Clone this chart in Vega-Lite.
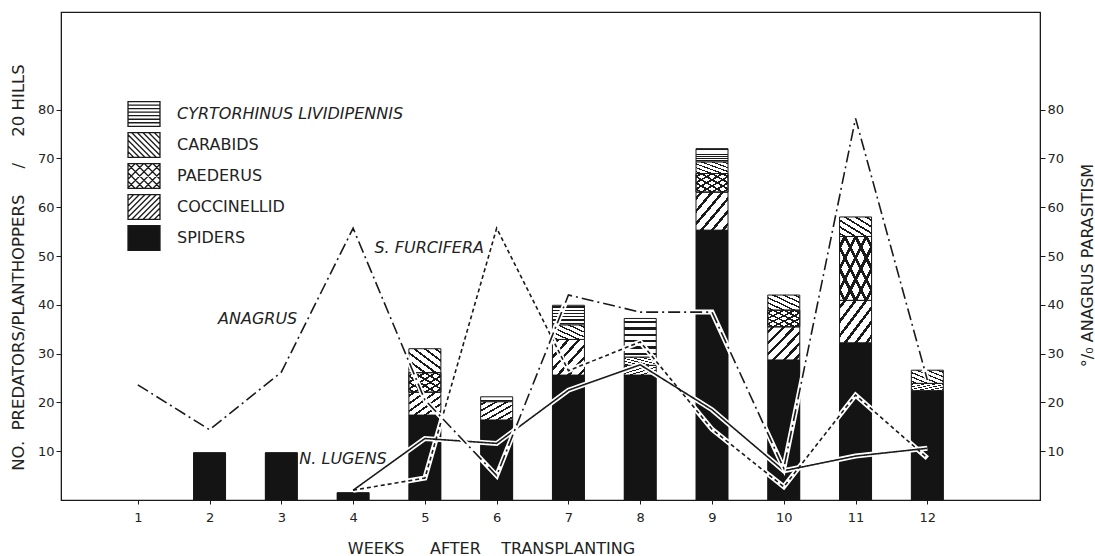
{
  "$schema": "https://vega.github.io/schema/vega-lite/v6.json",
  "width": 979,
  "height": 488,
  "autosize": {"type": "none"},
  "padding": {"left": 61, "top": 12, "right": 55, "bottom": 56},
  "background": "white",
  "params": [
    {"name": "gH", "expr": "{gradient:'linear',x1:0,y1:0,x2:0,y2:1,stops:[{offset:0,color:'#fff'},{offset:0.06,color:'#fff'},{offset:0.06,color:'#1a1a1a'},{offset:0.12,color:'#1a1a1a'},{offset:0.12,color:'#fff'},{offset:0.2267,color:'#fff'},{offset:0.2267,color:'#1a1a1a'},{offset:0.2867,color:'#1a1a1a'},{offset:0.2867,color:'#fff'},{offset:0.3933,color:'#fff'},{offset:0.3933,color:'#1a1a1a'},{offset:0.4533,color:'#1a1a1a'},{offset:0.4533,color:'#fff'},{offset:0.56,color:'#fff'},{offset:0.56,color:'#1a1a1a'},{offset:0.62,color:'#1a1a1a'},{offset:0.62,color:'#fff'},{offset:0.7267,color:'#fff'},{offset:0.7267,color:'#1a1a1a'},{offset:0.7867,color:'#1a1a1a'},{offset:0.7867,color:'#fff'},{offset:0.8933,color:'#fff'},{offset:0.8933,color:'#1a1a1a'},{offset:0.9533,color:'#1a1a1a'},{offset:0.9533,color:'#fff'},{offset:1,color:'#fff'}]}"},
    {"name": "gB", "expr": "{gradient:'linear',x1:1,y1:0,x2:0,y2:1,stops:[{offset:0,color:'#fff'},{offset:0.06,color:'#fff'},{offset:0.06,color:'#1a1a1a'},{offset:0.11,color:'#1a1a1a'},{offset:0.11,color:'#fff'},{offset:0.2267,color:'#fff'},{offset:0.2267,color:'#1a1a1a'},{offset:0.2767,color:'#1a1a1a'},{offset:0.2767,color:'#fff'},{offset:0.3933,color:'#fff'},{offset:0.3933,color:'#1a1a1a'},{offset:0.4433,color:'#1a1a1a'},{offset:0.4433,color:'#fff'},{offset:0.56,color:'#fff'},{offset:0.56,color:'#1a1a1a'},{offset:0.61,color:'#1a1a1a'},{offset:0.61,color:'#fff'},{offset:0.7267,color:'#fff'},{offset:0.7267,color:'#1a1a1a'},{offset:0.7767,color:'#1a1a1a'},{offset:0.7767,color:'#fff'},{offset:0.8933,color:'#fff'},{offset:0.8933,color:'#1a1a1a'},{offset:0.9433,color:'#1a1a1a'},{offset:0.9433,color:'#fff'},{offset:1,color:'#fff'}]}"},
    {"name": "gF", "expr": "{gradient:'linear',x1:0,y1:0,x2:1,y2:1,stops:[{offset:0,color:'#fff'},{offset:0.06,color:'#fff'},{offset:0.06,color:'#1a1a1a'},{offset:0.11,color:'#1a1a1a'},{offset:0.11,color:'#fff'},{offset:0.2267,color:'#fff'},{offset:0.2267,color:'#1a1a1a'},{offset:0.2767,color:'#1a1a1a'},{offset:0.2767,color:'#fff'},{offset:0.3933,color:'#fff'},{offset:0.3933,color:'#1a1a1a'},{offset:0.4433,color:'#1a1a1a'},{offset:0.4433,color:'#fff'},{offset:0.56,color:'#fff'},{offset:0.56,color:'#1a1a1a'},{offset:0.61,color:'#1a1a1a'},{offset:0.61,color:'#fff'},{offset:0.7267,color:'#fff'},{offset:0.7267,color:'#1a1a1a'},{offset:0.7767,color:'#1a1a1a'},{offset:0.7767,color:'#fff'},{offset:0.8933,color:'#fff'},{offset:0.8933,color:'#1a1a1a'},{offset:0.9433,color:'#1a1a1a'},{offset:0.9433,color:'#fff'},{offset:1,color:'#fff'}]}"},
    {"name": "gFt", "expr": "{gradient:'linear',x1:0,y1:0,x2:1,y2:1,stops:[{offset:0,color:'rgba(255,255,255,0)'},{offset:0.06,color:'rgba(255,255,255,0)'},{offset:0.06,color:'#1a1a1a'},{offset:0.11,color:'#1a1a1a'},{offset:0.11,color:'rgba(255,255,255,0)'},{offset:0.2267,color:'rgba(255,255,255,0)'},{offset:0.2267,color:'#1a1a1a'},{offset:0.2767,color:'#1a1a1a'},{offset:0.2767,color:'rgba(255,255,255,0)'},{offset:0.3933,color:'rgba(255,255,255,0)'},{offset:0.3933,color:'#1a1a1a'},{offset:0.4433,color:'#1a1a1a'},{offset:0.4433,color:'rgba(255,255,255,0)'},{offset:0.56,color:'rgba(255,255,255,0)'},{offset:0.56,color:'#1a1a1a'},{offset:0.61,color:'#1a1a1a'},{offset:0.61,color:'rgba(255,255,255,0)'},{offset:0.7267,color:'rgba(255,255,255,0)'},{offset:0.7267,color:'#1a1a1a'},{offset:0.7767,color:'#1a1a1a'},{offset:0.7767,color:'rgba(255,255,255,0)'},{offset:0.8933,color:'rgba(255,255,255,0)'},{offset:0.8933,color:'#1a1a1a'},{offset:0.9433,color:'#1a1a1a'},{offset:0.9433,color:'rgba(255,255,255,0)'},{offset:1,color:'rgba(255,255,255,0)'}]}"}
  ],
  "config": {
    "view": {"stroke": "#1a1a1a", "strokeWidth": 1.2},
    "font": "DejaVu Sans",
    "axis": {"grid": false, "domainColor": "#1a1a1a", "tickColor": "#1a1a1a", "labelColor": "#222", "titleColor": "#222", "labelFont": "DejaVu Sans", "titleFont": "DejaVu Sans", "titleFontWeight": "normal", "labelFontSize": 13, "titleFontSize": 16}
  },
  "datasets": {
    "bars": [
      {"week": 2, "group": "SPIDERS", "value": 9.7},
      {"week": 3, "group": "SPIDERS", "value": 9.7},
      {"week": 4, "group": "SPIDERS", "value": 1.5},
      {"week": 5, "group": "SPIDERS", "value": 17.4},
      {"week": 5, "group": "COCCINELLID", "value": 4.7},
      {"week": 5, "group": "PAEDERUS", "value": 4.0},
      {"week": 5, "group": "CARABIDS", "value": 4.9},
      {"week": 6, "group": "SPIDERS", "value": 16.4},
      {"week": 6, "group": "COCCINELLID", "value": 3.75},
      {"week": 6, "group": "CYRTORHINUS LIVIDIPENNIS", "value": 1.0},
      {"week": 7, "group": "SPIDERS", "value": 25.6},
      {"week": 7, "group": "COCCINELLID", "value": 7.3},
      {"week": 7, "group": "CARABIDS", "value": 3.0},
      {"week": 7, "group": "CYRTORHINUS LIVIDIPENNIS", "value": 4.0},
      {"week": 8, "group": "SPIDERS", "value": 25.6},
      {"week": 8, "group": "COCCINELLID", "value": 2.0},
      {"week": 8, "group": "CARABIDS", "value": 1.7},
      {"week": 8, "group": "CYRTORHINUS LIVIDIPENNIS", "value": 7.9},
      {"week": 9, "group": "SPIDERS", "value": 55.3},
      {"week": 9, "group": "COCCINELLID", "value": 7.8},
      {"week": 9, "group": "PAEDERUS", "value": 3.8},
      {"week": 9, "group": "CARABIDS", "value": 2.4},
      {"week": 9, "group": "CYRTORHINUS LIVIDIPENNIS", "value": 2.7},
      {"week": 10, "group": "SPIDERS", "value": 28.7},
      {"week": 10, "group": "COCCINELLID", "value": 6.8},
      {"week": 10, "group": "PAEDERUS", "value": 3.4},
      {"week": 10, "group": "CARABIDS", "value": 3.1},
      {"week": 11, "group": "SPIDERS", "value": 32.2},
      {"week": 11, "group": "COCCINELLID", "value": 8.7},
      {"week": 11, "group": "PAEDERUS", "value": 13.1},
      {"week": 11, "group": "CARABIDS", "value": 4.0},
      {"week": 12, "group": "SPIDERS", "value": 22.4},
      {"week": 12, "group": "COCCINELLID", "value": 1.5},
      {"week": 12, "group": "CARABIDS", "value": 2.7}
    ],
    "lines": [
      {"week": 1, "series": "ANAGRUS", "value": 23.6},
      {"week": 2, "series": "ANAGRUS", "value": 14.4},
      {"week": 3, "series": "ANAGRUS", "value": 26.2},
      {"week": 4, "series": "ANAGRUS", "value": 55.7},
      {"week": 5, "series": "ANAGRUS", "value": 20.5},
      {"week": 6, "series": "ANAGRUS", "value": 5.0},
      {"week": 7, "series": "ANAGRUS", "value": 42.0},
      {"week": 8, "series": "ANAGRUS", "value": 38.5},
      {"week": 9, "series": "ANAGRUS", "value": 38.5},
      {"week": 10, "series": "ANAGRUS", "value": 6.5},
      {"week": 11, "series": "ANAGRUS", "value": 78.2},
      {"week": 12, "series": "ANAGRUS", "value": 24.6},
      {"week": 4, "series": "S. FURCIFERA", "value": 2.0},
      {"week": 5, "series": "S. FURCIFERA", "value": 4.5},
      {"week": 6, "series": "S. FURCIFERA", "value": 55.7},
      {"week": 7, "series": "S. FURCIFERA", "value": 26.5},
      {"week": 8, "series": "S. FURCIFERA", "value": 32.4},
      {"week": 9, "series": "S. FURCIFERA", "value": 14.5},
      {"week": 10, "series": "S. FURCIFERA", "value": 2.7},
      {"week": 11, "series": "S. FURCIFERA", "value": 21.5},
      {"week": 12, "series": "S. FURCIFERA", "value": 8.6},
      {"week": 4, "series": "N. LUGENS", "value": 2.0},
      {"week": 5, "series": "N. LUGENS", "value": 12.6},
      {"week": 6, "series": "N. LUGENS", "value": 11.6},
      {"week": 7, "series": "N. LUGENS", "value": 22.5},
      {"week": 8, "series": "N. LUGENS", "value": 27.7},
      {"week": 9, "series": "N. LUGENS", "value": 18.5},
      {"week": 10, "series": "N. LUGENS", "value": 6.0},
      {"week": 11, "series": "N. LUGENS", "value": 9.0},
      {"week": 12, "series": "N. LUGENS", "value": 10.6}
    ],
    "notes": [
      {"label": "ANAGRUS", "week": 2.67, "value": 37.1},
      {"label": "S. FURCIFERA", "week": 5.06, "value": 51.6},
      {"label": "N. LUGENS", "week": 3.86, "value": 8.5}
    ]
  },
  "encoding": {
    "x": {
      "field": "week", "type": "quantitative",
      "scale": {"domain": [0, 13.5], "nice": false, "zero": false},
      "axis": {"values": [1, 2, 3, 4, 5, 6, 7, 8, 9, 10, 11, 12], "tickSize": 4, "labelPadding": 7, "labelFontSize": 13, "title": "WEEKS\u00a0\u00a0\u00a0\u00a0\u00a0AFTER\u00a0\u00a0\u00a0\u00a0TRANSPLANTING", "titleFontSize": 16, "titleX": 430, "titleY": 40, "titleAlign": "center", "titleBaseline": "top"}
    }
  },
  "resolve": {"scale": {"y": "independent"}},
  "layer": [
    {
      "data": {"name": "bars"},
      "transform": [
        {"calculate": "indexof(['SPIDERS','COCCINELLID','PAEDERUS','CARABIDS','CYRTORHINUS LIVIDIPENNIS'], datum.group)", "as": "k"},
        {"stack": "value", "groupby": ["week"], "sort": [{"field": "k", "order": "ascending"}], "as": ["y0", "y1"]}
      ],
      "encoding": {
        "y": {
          "field": "y0", "type": "quantitative",
          "scale": {"domain": [0, 100], "nice": false},
          "axis": {"orient": "left", "values": [10, 20, 30, 40, 50, 60, 70, 80], "tickSize": 5, "labelPadding": 2, "labelFontSize": 13, "title": "NO.\u00a0\u00a0PREDATORS/PLANTHOPPERS\u00a0\u00a0\u00a0\u00a0\u00a0/\u00a0\u00a0\u00a0\u00a0\u00a020\u00a0HILLS", "titleFontSize": 16.5, "titleX": -43, "titleY": 255, "titleBaseline": "middle", "titleAlign": "center"}
        },
        "y2": {"field": "y1"}
      },
      "layer": [
        {
          "transform": [{"filter": "datum.group == 'SPIDERS'"}],
          "mark": {"type": "bar", "width": 32, "stroke": "#1a1a1a", "strokeWidth": 1, "fill": "#141414"}
        },
        {
          "transform": [{"filter": "datum.group == 'COCCINELLID'"}],
          "mark": {"type": "bar", "width": 32, "stroke": "#1a1a1a", "strokeWidth": 1, "fill": {"expr": "gF"}}
        },
        {
          "transform": [{"filter": "datum.group == 'PAEDERUS' || datum.group == 'CARABIDS'"}],
          "mark": {"type": "bar", "width": 32, "stroke": "#1a1a1a", "strokeWidth": 1, "fill": {"expr": "gB"}}
        },
        {
          "transform": [{"filter": "datum.group == 'PAEDERUS'"}],
          "mark": {"type": "bar", "width": 32, "stroke": "#1a1a1a", "strokeWidth": 1, "fill": {"expr": "gFt"}}
        },
        {
          "transform": [{"filter": "datum.group == 'CYRTORHINUS LIVIDIPENNIS'"}],
          "mark": {"type": "bar", "width": 32, "stroke": "#1a1a1a", "strokeWidth": 1, "fill": {"expr": "gH"}}
        },
        {
          "mark": {"type": "bar", "width": 32, "strokeWidth": 0},
          "encoding": {
            "fill": {
              "field": "group", "type": "nominal",
              "scale": {
                "domain": ["CYRTORHINUS LIVIDIPENNIS", "CARABIDS", "PAEDERUS", "COCCINELLID", "SPIDERS"],
                "range": ["transparent", "transparent", "transparent", "transparent", "#141414"]
              },
              "legend": {
                "orient": "none", "legendX": 68, "legendY": 87, "title": null, "padding": 0,
                "symbolType": "M-1.13,-0.88H1.13V0.88H-1.13Z", "symbolSize": 800,
                "symbolStrokeColor": "#1a1a1a", "symbolStrokeWidth": 1.3, "symbolOpacity": 1,
                "labelFontSize": 16, "labelOffset": 18, "rowPadding": -3.5, "labelColor": "#222", "labelFont": "DejaVu Sans", "labelLimit": 400,
                "encode": {
                  "symbols": {"update": {
                    "shape": {"signal": "datum.value == 'CYRTORHINUS LIVIDIPENNIS' ? 'M-1.13,-0.88H1.13V0.88H-1.13ZM-1.13,-0.63H1.13M-1.13,-0.38H1.13M-1.13,-0.13H1.13M-1.13,0.12H1.13M-1.13,0.37H1.13M-1.13,0.62H1.13' : datum.value == 'CARABIDS' ? 'M-1.13,-0.88H1.13V0.88H-1.13ZM1.13,-0.47L0.72,-0.88M1.13,-0.07L0.32,-0.88M1.13,0.33L-0.08,-0.88M1.13,0.73L-0.48,-0.88M0.88,0.88L-0.88,-0.88M0.48,0.88L-1.13,-0.73M0.08,0.88L-1.13,-0.33M-0.32,0.88L-1.13,0.07M-0.72,0.88L-1.13,0.47' : datum.value == 'PAEDERUS' ? 'M-1.13,-0.88H1.13V0.88H-1.13ZM-1.13,-0.37L-0.62,-0.88M-1.13,0.23L-0.02,-0.88M-1.13,0.83L0.58,-0.88M-0.58,0.88L1.13,-0.83M0.02,0.88L1.13,-0.23M0.62,0.88L1.13,0.37M1.13,-0.37L0.62,-0.88M1.13,0.23L0.02,-0.88M1.13,0.83L-0.58,-0.88M0.58,0.88L-1.13,-0.83M-0.02,0.88L-1.13,-0.23M-0.62,0.88L-1.13,0.37' : datum.value == 'COCCINELLID' ? 'M-1.13,-0.88H1.13V0.88H-1.13ZM-1.13,-0.47L-0.72,-0.88M-1.13,-0.07L-0.32,-0.88M-1.13,0.33L0.08,-0.88M-1.13,0.73L0.48,-0.88M-0.88,0.88L0.88,-0.88M-0.48,0.88L1.13,-0.73M-0.08,0.88L1.13,-0.33M0.32,0.88L1.13,0.07M0.72,0.88L1.13,0.47' : 'M-1.13,-0.88H1.13V0.88H-1.13Z'"},
                    "fill": {"signal": "datum.value == 'SPIDERS' ? '#141414' : '#ffffff'"},
                    "fillOpacity": {"value": 1},
                    "opacity": {"value": 1},
                    "stroke": {"value": "#1a1a1a"},
                    "strokeOpacity": {"value": 1},
                    "strokeWidth": {"value": 1.3}
                  }},
                  "labels": {"update": {"fontStyle": {"signal": "datum.label == 'CYRTORHINUS LIVIDIPENNIS' ? 'italic' : 'normal'"}}}
                }
              }
            }
          }
        }
      ]
    },
    {
      "data": {"name": "lines"},
      "transform": [{"filter": "datum.series != 'ANAGRUS'"}],
      "encoding": {
        "y": {"field": "value", "type": "quantitative", "scale": {"domain": [0, 100], "nice": false}, "axis": null},
        "detail": {"field": "series", "type": "nominal"}
      },
      "layer": [
        {"mark": {"type": "line", "stroke": "white", "strokeWidth": 5}},
        {
          "mark": {"type": "line", "stroke": "#1a1a1a", "strokeWidth": 1.6},
          "encoding": {
            "strokeDash": {"field": "series", "type": "nominal", "scale": {"domain": ["S. FURCIFERA", "N. LUGENS"], "range": [[4, 3], [1, 0]]}, "legend": null}
          }
        }
      ]
    },
    {
      "data": {"name": "lines"},
      "transform": [{"filter": "datum.series == 'ANAGRUS'"}],
      "encoding": {
        "y": {
          "field": "value", "type": "quantitative", "scale": {"domain": [0, 100], "nice": false},
          "axis": {"orient": "right", "values": [10, 20, 30, 40, 50, 60, 70, 80], "tickSize": 5, "labelPadding": 2, "labelFontSize": 13, "title": "°/₀\u00a0ANAGRUS\u00a0PARASITISM", "titleFontSize": 16, "titleAngle": 270, "titleX": 47, "titleY": 253, "titleBaseline": "middle", "titleAlign": "center"}
        }
      },
      "layer": [
        {"mark": {"type": "line", "stroke": "white", "strokeWidth": 5}},
        {"mark": {"type": "line", "stroke": "#1a1a1a", "strokeWidth": 1.6, "strokeDash": [12, 4, 2, 4]}}
      ]
    },
    {
      "data": {"name": "notes"},
      "mark": {"type": "text", "fontStyle": "italic", "fontSize": 16, "font": "DejaVu Sans", "color": "#222", "align": "center", "baseline": "middle"},
      "encoding": {
        "y": {"field": "value", "type": "quantitative", "scale": {"domain": [0, 100], "nice": false}, "axis": null},
        "text": {"field": "label"}
      }
    }
  ]
}
